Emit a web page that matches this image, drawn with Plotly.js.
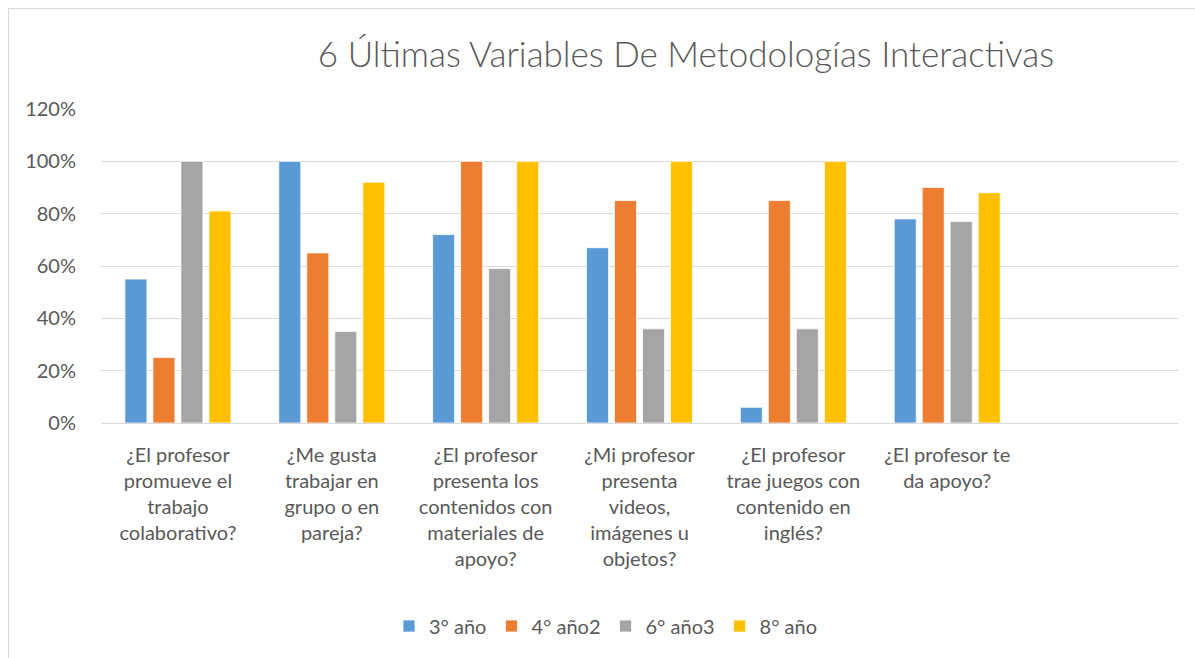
<!DOCTYPE html>
<html>
<head>
<meta charset="utf-8">
<script src="https://cdn.plot.ly/plotly-3.0.1.min.js"></script>
<style>
  html, body { margin: 0; padding: 0; background: #fff; }
  #wrap { position: relative; width: 1195px; height: 658px; overflow: hidden; }
  #chart { position: absolute; left: 0; top: 0; width: 1195px; height: 658px; }
  #frame { position: absolute; left: 8px; top: 8px; width: 1200px; height: 660px; border: 1px solid #D9D9D9; box-sizing: border-box; pointer-events: none; }
</style>
</head>
<body>
<div id="wrap">
  <div id="chart"></div>
  <div id="frame"></div>
</div>
<script>
const categories = [
  "¿El profesor<br>promueve el<br>trabajo<br>colaborativo?",
  "¿Me gusta<br>trabajar en<br>grupo o en<br>pareja?",
  "¿El profesor<br>presenta los<br>contenidos con<br>materiales de<br>apoyo?",
  "¿Mi profesor<br>presenta<br>videos,<br>imágenes u<br>objetos?",
  "¿El profesor<br>trae juegos con<br>contenido en<br>inglés?",
  "¿El profesor te<br>da apoyo?"
];
const seriesNames = ["3° año", "4° año2", "6° año3", "8° año"];
const ano3 = [0.55, 1.00, 0.72, 0.67, 0.06, 0.78];
const ano4 = [0.25, 0.65, 1.00, 0.85, 0.85, 0.90];
const ano6 = [1.00, 0.35, 0.59, 0.36, 0.36, 0.77];
const ano8 = [0.81, 0.92, 1.00, 1.00, 1.00, 0.88];
const colors = ["#5B9BD5", "#ED7D31", "#A5A5A5", "#FFC000"];
const values = [ano3, ano4, ano6, ano8];

const FONT = "Lato, 'Open Sans', sans-serif";
const traces = values.map((v, i) => ({
  type: "bar",
  name: seriesNames[i],
  x: categories,
  y: v,
  marker: { color: colors[i], line: { color: "#FFFFFF", width: 0.75 } },
  hoverinfo: "none"
}));

const layout = {
  width: 1195,
  height: 658,
  margin: { l: 101, r: 17, t: 109, b: 235 },
  paper_bgcolor: "rgba(0,0,0,0)",
  plot_bgcolor: "#FFFFFF",
  barmode: "group",
  bargap: 0.272,
  bargroupgap: 0.214,
  font: { family: FONT, color: "#595959" },
  title: {
    text: "6 Últimas Variables De Metodologías Interactivas",
    font: { family: FONT, size: 35, color: "#595959", weight: 300 },
    xref: "container", yref: "container",
    x: 686 / 1195, xanchor: "center",
    y: 1 - 55 / 658, yanchor: "middle"
  },
  xaxis: {
    type: "category",
    range: [-0.5, 6.5],
    showgrid: false,
    showline: true,
    linecolor: "#D9D9D9",
    linewidth: 1,
    ticks: "",
    ticklabelstandoff: 14,
    tickfont: { family: FONT, size: 20, color: "#595959" },
    fixedrange: true
  },
  yaxis: {
    range: [0, 1.2],
    dtick: 0.2,
    tick0: 0,
    tickformat: ".0%",
    showgrid: true,
    gridcolor: "#D9D9D9",
    gridwidth: 1,
    zeroline: true,
    zerolinecolor: "#D9D9D9",
    zerolinewidth: 1,
    showline: false,
    ticks: "outside",
    ticklen: 20,
    tickcolor: "rgba(0,0,0,0)",
    tickfont: { family: FONT, size: 20, color: "#595959" },
    fixedrange: true
  },
  showlegend: true,
  legend: {
    orientation: "h",
    xref: "container", yref: "container",
    x: 606 / 1195, xanchor: "center",
    y: 1 - 626 / 658, yanchor: "middle",
    font: { family: FONT, size: 20, color: "#595959" },
    itemclick: false, itemdoubleclick: false,
    traceorder: "normal"
  }
};

Plotly.newPlot("chart", traces, layout, { displayModeBar: false, staticPlot: true });
</script>
</body>
</html>
